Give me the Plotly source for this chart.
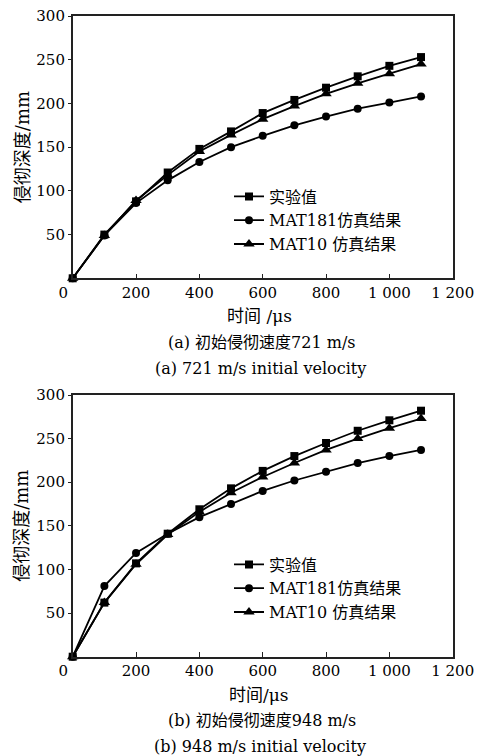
import plotly.graph_objects as go

W, H = 485, 756

time_us = [0, 100, 200, 300, 400, 500, 600, 700, 800, 900, 1000, 1100]

# (a) 721 m/s
a_exp = [0, 50, 88, 121, 148, 168, 189, 204, 218, 231, 243, 253]
a_mat181 = [0, 49, 86, 112, 133, 150, 163, 175, 185, 194, 201, 208]
a_mat10 = [0, 49, 89, 118, 145, 164, 182, 197, 211, 223, 234, 245]

# (b) 948 m/s
b_exp = [0, 62, 107, 141, 169, 193, 213, 230, 245, 259, 271, 282]
b_mat181 = [0, 81, 119, 141, 160, 175, 190, 202, 212, 222, 230, 237]
b_mat10 = [0, 62, 106, 140, 166, 188, 206, 222, 237, 250, 262, 273]

series_names = ["实验值", "MAT181仿真结果", "MAT10 仿真结果"]
x_tickvals = [0, 200, 400, 600, 800, 1000, 1200]
x_ticktext = ["0\u00a0\u00a0\u00a0\u00a0", "200", "400", "600", "800", "1 000", "1 200"]
y_tickvals = [50, 100, 150, 200, 250, 300]

x_title = ["时间 /μs", "时间/μs"]
captions_cn = ["(a) 初始侵彻速度721 m/s", "(b) 初始侵彻速度948 m/s"]
captions_en = ["(a) 721 m/s initial velocity", "(b) 948 m/s initial velocity"]
y_title = "侵彻深度/mm"

FONT = "DejaVu Serif, Liberation Serif, Noto Sans CJK SC, serif"
symbols = ["square", "circle", "triangle-up"]
msizes = [8, 8, 10]

# layout in window pixels (the page body adds an 8px offset)
OFF = 8
x0, x1 = 72.7, 452.7
panels = [(16, 278.3), (395, 656.7)]
legend_top = [179.5, 547.5]
legend_left = 229

def px_x(p):
    return (p - OFF) / W

def px_y(p):
    return 1 - (p - OFF) / H

fig = go.Figure()

datasets = [[a_exp, a_mat181, a_mat10], [b_exp, b_mat181, b_mat10]]

annotations = []
for i, (top, bot) in enumerate(panels):
    xa = "x" if i == 0 else "x2"
    ya = "y" if i == 0 else "y2"
    lg = "legend" if i == 0 else "legend2"
    for j, ys in enumerate(datasets[i]):
        fig.add_trace(go.Scatter(
            x=time_us, y=ys, name=series_names[j], mode="lines+markers", xaxis=xa, yaxis=ya,
            line=dict(color="black", width=1.8),
            marker=dict(symbol=symbols[j], size=msizes[j], color="black"),
            showlegend=True, legend=lg, cliponaxis=False))
    annotations.append(dict(text=y_title, xref="paper", yref="paper",
                            x=px_x(22), y=px_y((top + bot) / 2), textangle=-90,
                            xanchor="center", yanchor="middle", showarrow=False,
                            font=dict(size=18, family=FONT, color="black")))
    annotations.append(dict(text=x_title[i], xref="paper", yref="paper",
                            x=px_x(259), y=px_y(bot + 38), xanchor="center", yanchor="middle",
                            showarrow=False, font=dict(size=17, family=FONT, color="black")))
    annotations.append(dict(text=captions_cn[i], xref="paper", yref="paper",
                            x=px_x(262), y=px_y(bot + 64), xanchor="center", yanchor="middle",
                            showarrow=False, font=dict(size=16, family=FONT, color="black")))
    annotations.append(dict(text=captions_en[i], xref="paper", yref="paper",
                            x=px_x(260), y=px_y(bot + 90), xanchor="center", yanchor="middle",
                            showarrow=False, font=dict(size=16, family=FONT, color="black")))

axis_common_x = dict(range=[0, 1200], tickvals=x_tickvals, ticktext=x_ticktext,
                     ticks="inside", ticklen=5, tickcolor="#222", tickwidth=1,
                     showline=True, linecolor="#222", linewidth=1.5, mirror=True,
                     showgrid=False, zeroline=False, automargin=False,
                     ticklabeloverflow="allow",
                     tickfont=dict(size=15, family=FONT, color="black"))
axis_common_y = dict(range=[0, 300], tickvals=y_tickvals,
                     ticks="outside", ticklen=3, tickcolor="#222", tickwidth=1,
                     showline=True, linecolor="#222", linewidth=1.5, mirror=True,
                     showgrid=False, zeroline=False, automargin=False,
                     ticklabeloverflow="allow",
                     tickfont=dict(size=15, family=FONT, color="black"))

legend_common = dict(xanchor="left", yanchor="top", bgcolor="rgba(0,0,0,0)",
                     font=dict(size=16, family=FONT, color="black"),
                     itemwidth=30, tracegroupgap=0)

fig.update_layout(
    width=W, height=H, margin=dict(l=0, r=0, t=0, b=0, autoexpand=False),
    paper_bgcolor="white", plot_bgcolor="white",
    xaxis=dict(domain=[px_x(x0), px_x(x1)], anchor="y", **axis_common_x),
    yaxis=dict(domain=[px_y(panels[0][1]), px_y(panels[0][0])], anchor="x", **axis_common_y),
    xaxis2=dict(domain=[px_x(x0), px_x(x1)], anchor="y2", **axis_common_x),
    yaxis2=dict(domain=[px_y(panels[1][1]), px_y(panels[1][0])], anchor="x2", **axis_common_y),
    legend=dict(x=px_x(legend_left), y=px_y(legend_top[0]), **legend_common),
    legend2=dict(x=px_x(legend_left), y=px_y(legend_top[1]), **legend_common),
    annotations=annotations, showlegend=True,
)

fig.write_html("out.html")
